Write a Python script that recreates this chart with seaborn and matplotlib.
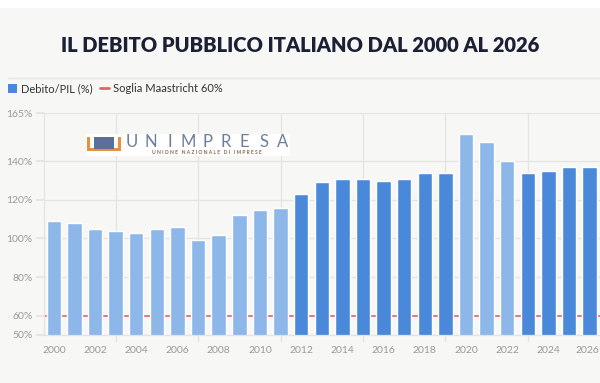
import matplotlib
matplotlib.use('Agg')
import matplotlib.pyplot as plt
import seaborn as sns
import pandas as pd
from matplotlib.patches import Rectangle, Patch
from matplotlib.lines import Line2D

# dati (Debito/PIL in %)
anni = [str(a) for a in range(2000, 2027)]
debito = [109, 108, 105, 104, 103, 105, 106, 99, 102, 112, 115, 116,
          123, 129, 131, 131, 130, 131, 134, 134,
          154, 150, 140,
          134, 135, 137, 137]
tono = ['chiaro'] * 12 + ['scuro'] * 8 + ['chiaro'] * 3 + ['scuro'] * 4
y_ticks = [50, 60, 80, 100, 120, 140, 165]
soglia = 60

LIGHT = '#8db6e9'
DARK = '#4a89da'
RED = '#e06666'
BG = '#f7f7f5'
GRID = '#e4e4e2'

W, H = 600, 383


def fx(x):
    return x / W


def fy(y):
    return 1 - y / H


def box(x0, y0, x1, y1, color, z):
    # rettangolo in pixel della figura (origine in alto a sinistra)
    fig.patches.append(Rectangle((fx(x0), fy(y1)), fx(x1 - x0), (y1 - y0) / H,
                                 transform=fig.transFigure, facecolor=color,
                                 edgecolor='none', zorder=z))


sns.set_theme(style='white')
plt.rcParams['font.family'] = ['Lato', 'DejaVu Sans']

fig = plt.figure(figsize=(6, 3.83), dpi=100, facecolor=BG)
box(0, 0, W, 7.5, 'white', 0)
fig.lines.append(Line2D([fx(7.5), 1], [fy(78), fy(78)], transform=fig.transFigure,
                        color='#e6e6e4', lw=1))
fig.text(0.5, fy(45), 'IL DEBITO PUBBLICO ITALIANO DAL 2000 AL 2026',
         ha='center', va='center', fontsize=14.5, fontweight='heavy', color='#1c2035')

ax = fig.add_axes([fx(43.5), 48 / H, 1 - fx(43.5), 222 / H])
ax.set_facecolor(BG)

df = pd.DataFrame({'anno': anni, 'debito': debito, 'tono': tono})
sns.barplot(data=df, x='anno', y='debito', hue='tono',
            palette={'chiaro': LIGHT, 'scuro': DARK}, dodge=False,
            width=0.7, legend=False, ax=ax, zorder=2, saturation=1)
ax.axhline(soglia, color=RED, lw=1.2, zorder=1)

ax.set_ylim(50, 165)
ax.set_xlim(-0.5, len(anni) - 0.5)
ax.set_yticks(y_ticks)
ax.set_yticklabels([f'{v}%' for v in y_ticks])
ax.yaxis.grid(True, color=GRID, lw=0.9, zorder=0)
ax.set_xticks(range(0, len(anni), 2))
ax.set_xticklabels([a if a != '2026' else '2026*' for a in anni[::2]])
ax.set_xticks([3, 7, 11, 15, 19, 23], minor=True)
ax.xaxis.grid(True, which='minor', color=GRID, lw=0.9, zorder=0)
ax.tick_params(axis='x', which='major', length=0, pad=8, labelsize=7.5, labelcolor='#9a9a9a')
ax.tick_params(axis='x', which='minor', length=5, color=GRID, bottom=True)
ax.tick_params(axis='y', length=6, color=GRID, left=True, pad=2, labelsize=7.5, labelcolor='#9a9a9a')
ax.set_xlabel('')
ax.set_ylabel('')
for s in ['top', 'right']:
    ax.spines[s].set_visible(False)
for s in ['left', 'bottom']:
    ax.spines[s].set_color(GRID)
    ax.spines[s].set_linewidth(0.9)
ax.set_axisbelow(True)

# legenda
handles = [Patch(facecolor=DARK, edgecolor='none', label='Debito/PIL (%)'),
           Line2D([], [], color=RED, lw=2, label='Soglia Maastricht 60%')]
fig.legend(handles=handles, loc='center left', bbox_to_anchor=(fx(-2), fy(89)),
           ncol=2, frameon=False, fontsize=8, handlelength=0.8, handleheight=0.8,
           handletextpad=0.4, columnspacing=0.6, labelcolor='#333333')

# logo Unimpresa
box(86, 134, 290, 156, 'white', 3)
box(87, 137, 121, 151, '#e8913a', 4)
box(90, 137, 118, 148, 'white', 5)
box(94, 137, 114, 149, '#5d6f98', 6)
for i, c in enumerate('UNIMPRESA'):
    fig.text(fx(132 + i * 18.8), fy(142), c, ha='center', va='center', fontsize=12,
             color='#6f7f9b', fontweight='normal', zorder=7)
fig.text(fx(207), fy(152.5), 'U N I O N E   N A Z I O N A L E   D I   I M P R E S E',
         ha='center', va='center', fontsize=3.6, color='#8a6a50', fontweight='bold', zorder=7)

fig.savefig('out.png', dpi=100, facecolor=BG)
